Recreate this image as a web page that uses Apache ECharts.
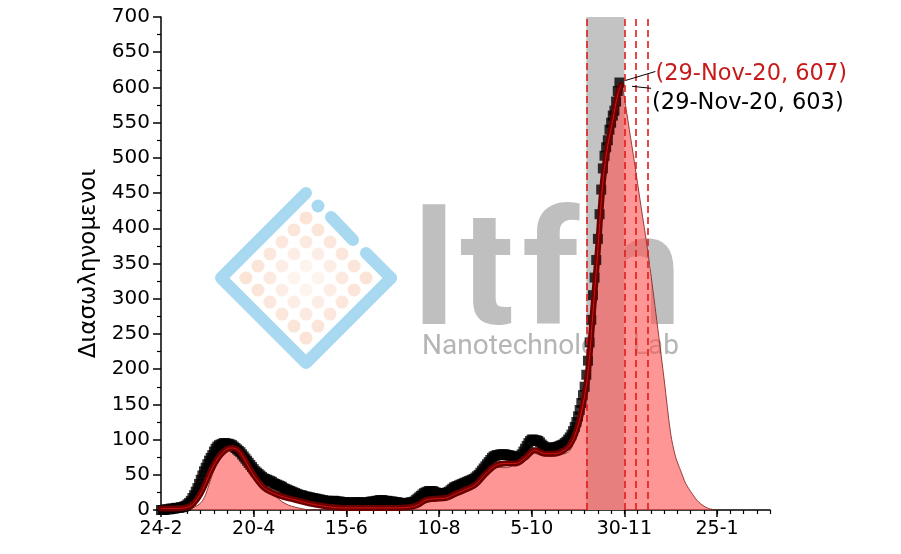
<!DOCTYPE html>
<html><head><meta charset="utf-8">
<script src="https://cdn.jsdelivr.net/npm/echarts@6/dist/echarts.min.js"></script>
<style>html,body{margin:0;padding:0;background:#fff}#c{width:901px;height:554px}</style>
</head><body><div id="c"></div>
<script>
// ---- data (day 0 = 24-Feb-2020) ----
const xTickDays = [0, 56, 112, 168, 224, 280, 336];
const xTickLabels = ['24-2', '20-4', '15-6', '10-8', '5-10', '30-11', '25-1'];
const yAxisName = 'Διασωληνομενοι';

// black squares: daily values from 24-Feb-2020
const blackValues = [
  0,0,0,1,1,1,2, 2,2,3,3,3,4,4, 5,6,8,10,13,17,21, 26,31,37,43,49,55,60,
  65,70,74,78,83,87,90, 92,93,94,95,95,94,94, 93,92,90,88,86,84,82, 79,76,73,70,67,64,61,
  58,55,53,51,49,47,45, 44,43,42,41,40,38,37, 36,35,34,33,31,30,29, 28,27,26,25,24,23,22,
  21,21,20,19,19,18,18, 17,17,16,16,15,15,14, 14,13,13,13,12,12,13, 13,12,12,12,11,11,11,
  11,11,10,10,10,11,11, 11,11,10,10,10,11,11, 11,12,12,12,13,13,14, 14,14,13,13,13,12,12,
  12,11,11,11,10,10,10, 10,10,10,10,11,11,12, 14,16,18,20,22,24,25, 26,27,27,27,26,25,24,
  23,23,23,24,24,25,26, 28,30,32,33,34,35,36, 37,38,39,40,41,42,43, 44,46,48,50,53,56,59,
  62,65,68,71,74,76,77, 78,78,79,79,79,79,78, 78,77,77,76,75,74,74, 76,79,83,87,91,95,98,
  100,100,99,99,98,96,93, 91,89,88,88,88,88,89, 89,89,90,91,92,93,95, 97,100,103,107,112,118,125,
  133,142,152,163,175,192,212, 238,270,305,330,355,385,420, 455,485,503,515,525,540,550,
  560,567,580,595,607
];

// dark red band
const maroonDays   = [0,8,14,18,22,26,30,34,38,42,46,50,54,58,62,66,72,80,90,100,110,120,130,140,150,155,160,166,172,178,184,190,196,202,208,214,220,226,232,238,243,247,251,255,258,261,264,267,270,273,276,278];
const maroonValues = [2,2,3,6,16,33,55,72,83,88,86,74,57,43,32,26,20,15,9,5,3,3,3,3,4,7,14,16,17,23,29,36,51,63,66,66,74,85,80,80,84,92,112,150,195,280,370,465,518,553,590,603];

// pink fitted area
const pinkDays   = [0,10,16,20,23,25,27,29,31,33,35,37,40,43,46,49,52,55,58,61,64,67,70,73,77,81,85,90,135,140,146,152,158,163,170,176,183,189,195,201,209,213,217,223,229,235,241,244,247,250,253,256,258,260,262,264,266,267,269,271,273,275,277,278,280,283,286,290,294,299,304,308,311,314,317,321,325,330,335];
const pinkValues = [0,1,2,4,8,13,22,36,50,62,72,79,85,88,88,84,77,67,55,45,34,25,18,12,7,4,2,0,0,2,4,5,9,12,14,18,24,33,50,61,60,64,71,83,78,76,78,80,84,100,130,165,200,245,300,360,415,450,500,535,565,592,605,608,585,540,495,432,370,280,186,108,75,56,38,23,11,3,0];

const shadedRange = [257, 280];
const lockdownDays = [257, 280, 287, 294];
const peakA = { day: 277, value: 607, label: '(29-Nov-20, 607)' };
const peakB = { day: 278, value: 603, label: '(29-Nov-20, 603)' };

// ---- chart ----
const FONT = 'DejaVu Sans';
const chart = echarts.init(document.getElementById('c'), null, { renderer: 'canvas' });
const pairs = (xs, ys) => xs.map((x, i) => [x, ys[i]]);

const option = {
  animation: false,
  backgroundColor: '#fff',
  grid: { left: 161, right: 131, top: 17, bottom: 44 },
  xAxis: [{
    type: 'value', min: 0, max: 368, position: 'bottom',
    axisLine: { lineStyle: { color: '#000', width: 1.5 } },
    axisTick: { customValues: xTickDays, length: 7, lineStyle: { color: '#000', width: 1.5 } },
    axisLabel: { customValues: xTickDays, formatter: v => xTickLabels[xTickDays.indexOf(v)] || '',
      color: '#000', fontFamily: FONT, fontSize: 19, margin: 10 },
    splitLine: { show: false }
  }, {
    type: 'value', min: 0, max: 368, interval: 8, position: 'bottom', offset: 0,
    axisLine: { show: false },
    axisTick: { length: 4, lineStyle: { color: '#000', width: 1.2 } },
    axisLabel: { show: false }, splitLine: { show: false }
  }],
  yAxis: {
    type: 'value', min: 0, max: 700, interval: 50,
    name: yAxisName, nameLocation: 'middle', nameGap: 58,
    nameTextStyle: { fontFamily: FONT, fontSize: 23, color: '#000' },
    axisLine: { show: true, lineStyle: { color: '#000', width: 1.5 } },
    axisTick: { show: true, length: 8, lineStyle: { color: '#000', width: 1.5 } },
    minorTick: { show: true, splitNumber: 2, length: 4, lineStyle: { color: '#000', width: 1.2 } },
    axisLabel: { color: '#000', fontFamily: FONT, fontSize: 20, margin: 11 },
    splitLine: { show: false }
  },
  series: [
    { type: 'line', name: 'band', z: 1, data: [[0, 0]], symbol: 'none', lineStyle: { opacity: 0 },
      markArea: { silent: true, itemStyle: { color: '#c3c3c3', opacity: 1 },
        data: [[{ xAxis: shadedRange[0] }, { xAxis: shadedRange[1] }]] } },
    { type: 'line', name: 'fit', z: 3, data: pairs(pinkDays, pinkValues), smooth: 0.3,
      symbol: 'none', lineStyle: { color: '#8c2a2a', width: 0.9 },
      areaStyle: { color: 'rgba(255,85,85,0.62)', opacity: 1 } },
    { type: 'scatter', name: 'A', z: 4, data: blackValues.map((v, i) => [i, v]),
      symbol: 'rect', symbolSize: 10, itemStyle: { color: '#000' } },
    { type: 'line', name: 'B', z: 5, data: pairs(maroonDays, maroonValues), smooth: 0.4,
      symbol: 'none', lineStyle: { color: '#6a0000', width: 6, cap: 'round', join: 'round' } },
    { type: 'line', name: 'Bline', z: 6, data: pairs(maroonDays, maroonValues), smooth: 0.4,
      symbol: 'none', lineStyle: { color: '#d41414', width: 1 } },
    { type: 'line', name: 'marks', z: 7, data: [[0, 0]], symbol: 'none', lineStyle: { opacity: 0 },
      markLine: { silent: true, symbol: ['none', 'none'], label: { show: false },
        lineStyle: { type: [7, 4], color: '#e01b1b', width: 1.6 },
        data: lockdownDays.map(d => ({ xAxis: d })) } }
  ]
};
chart.setOption(option);

// ---- watermark + annotations ----
const g = [];
const blue = '#a9d9f1';
const cx = 306, cy = 278, hd = 85;
for (let i = 0; i < 6; i++) for (let j = 0; j < 6; j++) {
  const u = (i - 2.5) * 17, v = (j - 2.5) * 17;
  const x = cx + (u + v) / Math.SQRT2, y = cy + (v - u) / Math.SQRT2;
  const d = Math.hypot(x - cx, y - cy);
  g.push({ type: 'circle', z: 0, silent: true, shape: { cx: x, cy: y, r: 6.5 },
    style: { fill: '#f7c9ae', opacity: 0.12 + 0.4 * Math.min(1, d / 55) } });
}
g.push({ type: 'polyline', z: 0, silent: true,
  shape: { points: [[cx, cy - hd], [cx - hd, cy], [cx, cy + hd], [cx + hd, cy]] },
  style: { stroke: blue, lineWidth: 12, lineJoin: 'round', lineCap: 'round', fill: null } });
g.push({ type: 'circle', z: 0, silent: true, shape: { cx: 318, cy: 206, r: 6.5 }, style: { fill: blue } });
g.push({ type: 'line', z: 0, silent: true, shape: { x1: 331, y1: 217, x2: 353, y2: 240 },
  style: { stroke: blue, lineWidth: 12, lineCap: 'round' } });
g.push({ type: 'line', z: 0, silent: true, shape: { x1: 366, y1: 253, x2: cx + hd, y2: cy },
  style: { stroke: blue, lineWidth: 12, lineCap: 'round' } });
const wm = { fill: '#bfbfbf', fontFamily: 'Roboto', fontWeight: 'bold', fontSize: 160,
  align: 'center', verticalAlign: 'middle' };
[['l', 434], ['t', 487], ['f', 551], ['n', 637]].forEach(([ch, x]) => {
  g.push({ type: 'text', z: 0, silent: true, x: x, y: 284, style: Object.assign({ text: ch }, wm) });
});
g.push({ type: 'text', z: 0, silent: true, x: 422, y: 347,
  style: { text: 'Nanotechnology Lab', fill: '#b5b5b5', fontFamily: 'Roboto', fontSize: 28,
    align: 'left', verticalAlign: 'middle' } });

const p = chart.convertToPixel({ xAxisIndex: 0, yAxisIndex: 0 }, [peakA.day, peakA.value]);
const q = chart.convertToPixel({ xAxisIndex: 0, yAxisIndex: 0 }, [peakB.day, peakB.value]);
g.push({ type: 'line', z: 100, silent: true, shape: { x1: p[0] + 6, y1: p[1] - 2, x2: p[0] + 36, y2: p[1] - 11 },
  style: { stroke: '#000', lineWidth: 1 } });
g.push({ type: 'text', z: 100, silent: true, x: p[0] + 36, y: p[1] - 8,
  style: { text: peakA.label, fill: '#c81a1a', fontFamily: FONT, fontSize: 22.5, align: 'left', verticalAlign: 'middle' } });
g.push({ type: 'line', z: 100, silent: true, shape: { x1: q[0] + 11, y1: q[1] + 1, x2: q[0] + 30, y2: q[1] + 3 },
  style: { stroke: '#000', lineWidth: 1 } });
g.push({ type: 'text', z: 100, silent: true, x: q[0] + 31, y: q[1] + 17.5,
  style: { text: peakB.label, fill: '#000', fontFamily: FONT, fontSize: 22.5, align: 'left', verticalAlign: 'middle' } });
chart.setOption({ graphic: { elements: g } });
</script></body></html>
